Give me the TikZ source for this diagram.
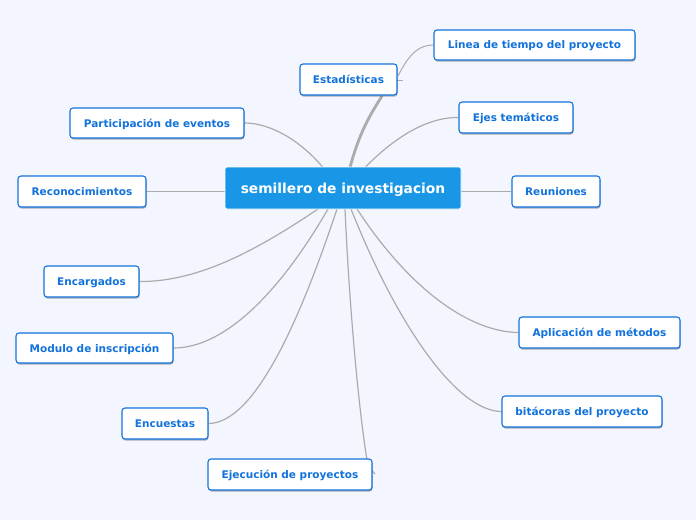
\documentclass[tikz,border=0pt]{standalone}
\usepackage{fontspec}
\setmainfont{DejaVu Sans}
\usetikzlibrary{shadows,backgrounds}
\definecolor{bg}{HTML}{F3F6FE}
\definecolor{cblue}{HTML}{1A96E6}
\definecolor{tblue}{HTML}{1272DC}
\definecolor{lgray}{HTML}{ABABAB}
\tikzset{
  child/.style={draw=tblue, line width=1.1pt, fill=white, rounded corners=3pt,
    text=tblue, font=\bfseries\fontsize{10.5}{12}\selectfont, inner sep=0pt, text depth=0pt,
    drop shadow={shadow xshift=0.6pt, shadow yshift=-1.6pt, opacity=0.3, fill=black}},
  root/.style={draw=white, line width=0.8pt, fill=cblue, rounded corners=2pt,
    text=white, font=\bfseries\fontsize{13.8}{16}\selectfont, inner sep=0pt, text depth=0pt},
  link/.style={draw=lgray, line width=1.2pt},
}
\begin{document}
\begin{tikzpicture}[x=1pt,y=-1pt]
\useasboundingbox (0,0) rectangle (696,520);

\node[root, minimum width=236pt, minimum height=42pt] (c) at (343,188) {semillero de investigacion};

\node[child, minimum width=97pt, minimum height=31pt] (est) at (348.5,79.5) {Estadísticas};
\node[child, minimum width=201pt, minimum height=30pt] (lin) at (534.5,45) {Linea de tiempo del proyecto};
\node[child, minimum width=114pt, minimum height=31pt] (eje) at (516,117.5) {Ejes temáticos};
\node[child, minimum width=88pt, minimum height=31pt] (reu) at (556,191.5) {Reuniones};
\node[child, minimum width=174pt, minimum height=30pt] (par) at (157,123) {Participación de eventos};
\node[child, minimum width=128pt, minimum height=31pt] (rec) at (82,191.5) {Reconocimientos};
\node[child, minimum width=95pt, minimum height=31pt] (enc) at (91.5,281.5) {Encargados};
\node[child, minimum width=157pt, minimum height=30pt] (mod) at (94.5,348) {Modulo de inscripción};
\node[child, minimum width=86pt, minimum height=31pt] (ecu) at (165,423.5) {Encuestas};
\node[child, minimum width=164pt, minimum height=31pt] (ejc) at (290,474.5) {Ejecución de proyectos};
\node[child, minimum width=161pt, minimum height=31pt] (apl) at (599.5,332.5) {Aplicación de métodos};
\node[child, minimum width=160pt, minimum height=31pt] (bit) at (582,411.5) {bitácoras del proyecto};

\coordinate (cPar) at (323,167.5);
\coordinate (cEst) at (350,167.5);
\coordinate (cEje) at (365,167.5);
\coordinate (cEnc) at (318,209);
\coordinate (cMod) at (328,209);
\coordinate (cEcu) at (337,209);
\coordinate (cEjc) at (345,209);
\coordinate (cBit) at (351,209);
\coordinate (cApl) at (357,209);
\coordinate (eEst) at (382,96);
\coordinate (sLin) at (398,76);
\coordinate (eEjc) at (368,466);
\coordinate (tEjc) at (375,474);
\coordinate (stA) at (397,80);
\coordinate (stB) at (403,80);

\begin{pgfonlayer}{background}
\fill[bg] (0,0) rectangle (696,520);
\draw[link] (cPar) .. controls (300,140) and (270,123) .. (par.east);
\draw[draw=lgray, line width=2.8pt] (cEst) .. controls (360,130) and (372,112) .. (eEst);
\draw[link] (cEje) .. controls (392,140) and (425,117) .. (eje.west);
\draw[link] (c.east |- reu.west) -- (reu.west);
\draw[link] (c.west |- rec.east) -- (rec.east);
\draw[link] (cEnc) .. controls (260,248) and (200,282) .. (enc.east);
\draw[link] (cMod) .. controls (280,292) and (225,348) .. (mod.east);
\draw[link] (cEcu) .. controls (300,320) and (255,423) .. (ecu.east);
\draw[link] (cEjc) .. controls (350,320) and (360,420) .. (eEjc) -- (tEjc);
\draw[link] (cBit) .. controls (395,320) and (455,411) .. (bit.west);
\draw[link] (cApl) .. controls (410,290) and (470,332) .. (apl.west);
\draw[draw=lgray, line width=1pt] (sLin) .. controls (410,52) and (420,45) .. (lin.west);
\draw[draw=lgray, line width=1pt] (stA) -- (stB);
\end{pgfonlayer}
\end{tikzpicture}
\end{document}
